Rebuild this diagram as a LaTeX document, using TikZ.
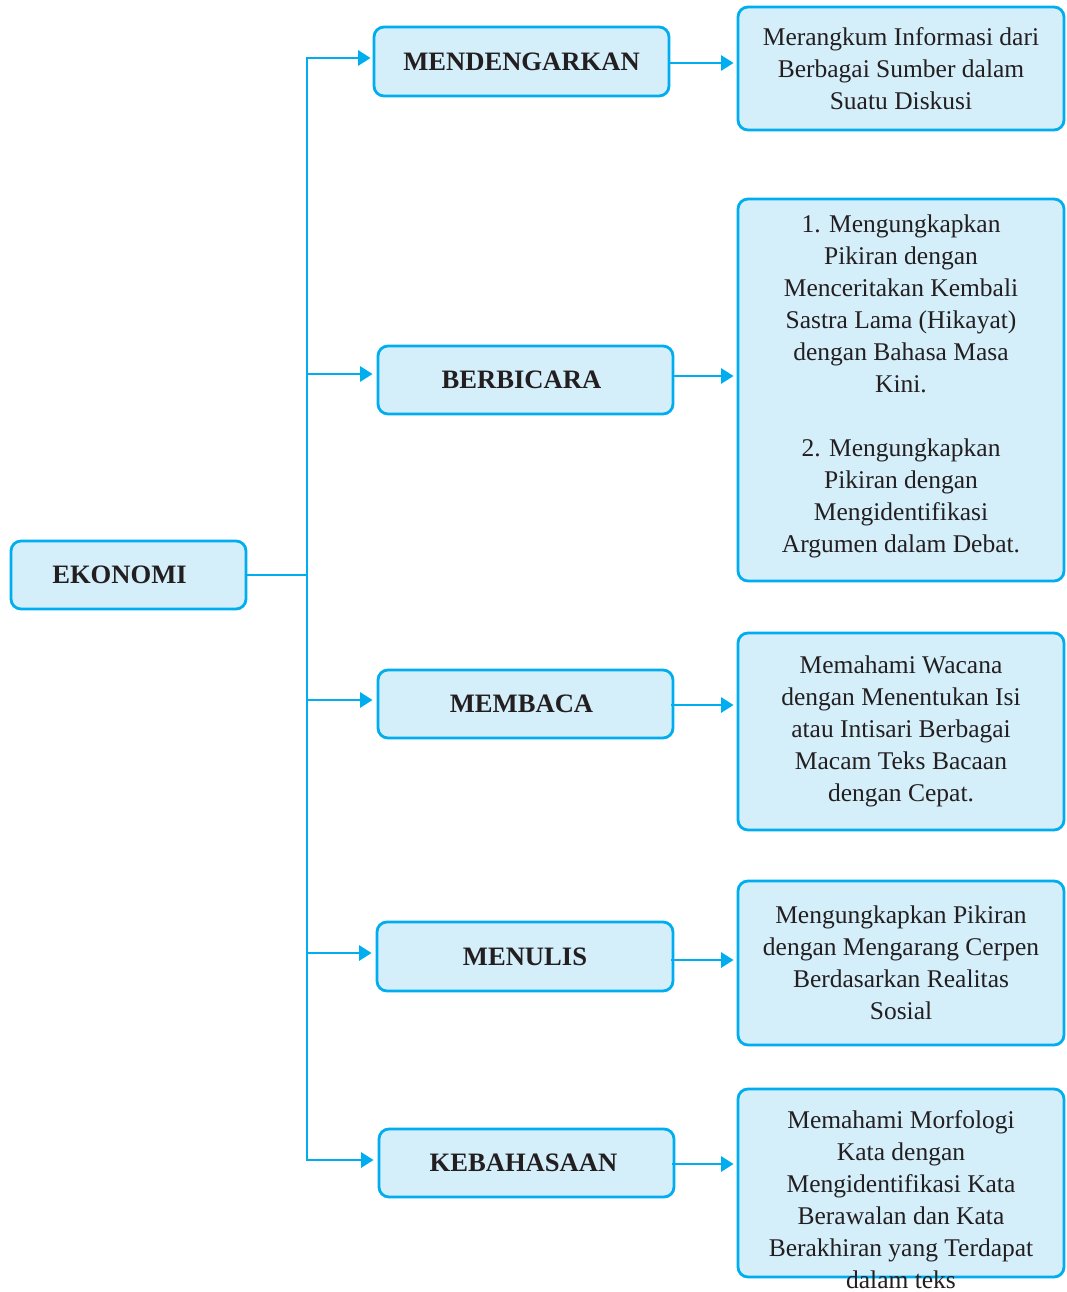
\documentclass[tikz,border=0pt]{standalone}
\usepackage{fontspec}
\setmainfont{Liberation Serif}
\usetikzlibrary{arrows.meta}
\definecolor{cline}{HTML}{00AEEF}
\definecolor{cfill}{HTML}{D4EEFA}
\definecolor{ctext}{HTML}{231F20}
\begin{document}
\begin{tikzpicture}[x=1pt,y=-1pt,
  box/.style={draw=cline,fill=cfill,line width=2.8pt,rounded corners=10pt,inner sep=0pt,text=ctext},
  headbox/.style={box,font=\fontsize{26.6}{30}\selectfont\bfseries},
  infobox/.style={box,minimum width=326pt},
  infotext/.style={align=center,text=ctext,font=\fontsize{25.5}{32}\selectfont,inner sep=0pt},
  conn/.style={draw=cline,line width=2.8pt},
  arr/.style={conn,-{Triangle[length=12.5pt,width=15pt]}}]
\useasboundingbox (0,0) rectangle (1066,1292);

% left / head boxes
\node[headbox,minimum width=235pt,minimum height=68pt] (eko) at (128.5,575) {EKONOMI\kern18pt};
\node[headbox,minimum width=295pt,minimum height=69pt] (l1) at (521.5,61.5) {MENDENGARKAN};
\node[headbox,minimum width=295pt,minimum height=68pt] (l2) at (525.5,380) {BERBICARA\kern8pt};
\node[headbox,minimum width=295pt,minimum height=68pt] (l3) at (525.5,704) {MEMBACA\kern8pt};
\node[headbox,minimum width=296pt,minimum height=69pt] (l4) at (525,956.5) {MENULIS};
\node[headbox,minimum width=295pt,minimum height=68pt] (l5) at (526.5,1163) {KEBAHASAAN\kern6pt};

% right boxes
\node[infobox,minimum height=123pt] (r1) at (901,68.5) {};
\node[infotext] at (r1.center) {Merangkum Informasi dari\\Berbagai Sumber dalam\\Suatu Diskusi};
\node[infobox,minimum height=382pt] (r2) at (901,390) {};
\node[infotext] at ([yshift=4pt]r2.center) {1. Mengungkapkan\\Pikiran dengan\\Menceritakan Kembali\\Sastra Lama (Hikayat)\\dengan Bahasa Masa\\Kini.\\[32pt]2. Mengungkapkan\\Pikiran dengan\\Mengidentifikasi\\Argumen dalam Debat.};
\node[infobox,minimum height=197pt] (r3) at (901,731.5) {};
\node[infotext] at (r3.center) {Memahami Wacana\\dengan Menentukan Isi\\atau Intisari Berbagai\\Macam Teks Bacaan\\dengan Cepat.};
\node[infobox,minimum height=164pt] (r4) at (901,963) {};
\node[infotext] at (r4.center) {Mengungkapkan Pikiran\\dengan Mengarang Cerpen\\Berdasarkan Realitas\\Sosial};
\node[infobox,minimum height=188pt] (r5) at (901,1183) {};
\node[infotext] at ([yshift=-17pt]r5.center) {Memahami Morfologi\\Kata dengan\\Mengidentifikasi Kata\\Berawalan dan Kata\\Berakhiran yang Terdapat\\dalam teks};

% trunk
\coordinate (j) at (307,575);
\draw[conn] (eko.east) -- (j);
\draw[arr] (j) |- ([xshift=-2pt,yshift=3.5pt]l1.west);
\draw[arr] (j) |- ([xshift=-4pt,yshift=6pt]l2.west);
\draw[arr] (j) |- ([xshift=-4pt,yshift=4pt]l3.west);
\draw[arr] (j) |- ([xshift=-4pt,yshift=3.5pt]l4.west);
\draw[arr] (j) |- ([xshift=-4pt,yshift=3pt]l5.west);

% right arrows
\draw[arr] ([xshift=-2pt,yshift=-1.5pt]l1.east) -- ([xshift=-3pt,yshift=-1.5pt]l1.east -| r1.west);
\draw[arr] ([xshift=-2pt,yshift=4pt]l2.east) -- ([xshift=-3pt,yshift=4pt]l2.east -| r2.west);
\draw[arr] ([xshift=-3pt,yshift=-1pt]l3.east) -- ([xshift=-3pt,yshift=-1pt]l3.east -| r3.west);
\draw[arr] ([xshift=-3pt,yshift=-3.5pt]l4.east) -- ([xshift=-3pt,yshift=-3.5pt]l4.east -| r4.west);
\draw[arr] ([xshift=-3pt,yshift=-1pt]l5.east) -- ([xshift=-3pt,yshift=-1pt]l5.east -| r5.west);
\end{tikzpicture}
\end{document}
